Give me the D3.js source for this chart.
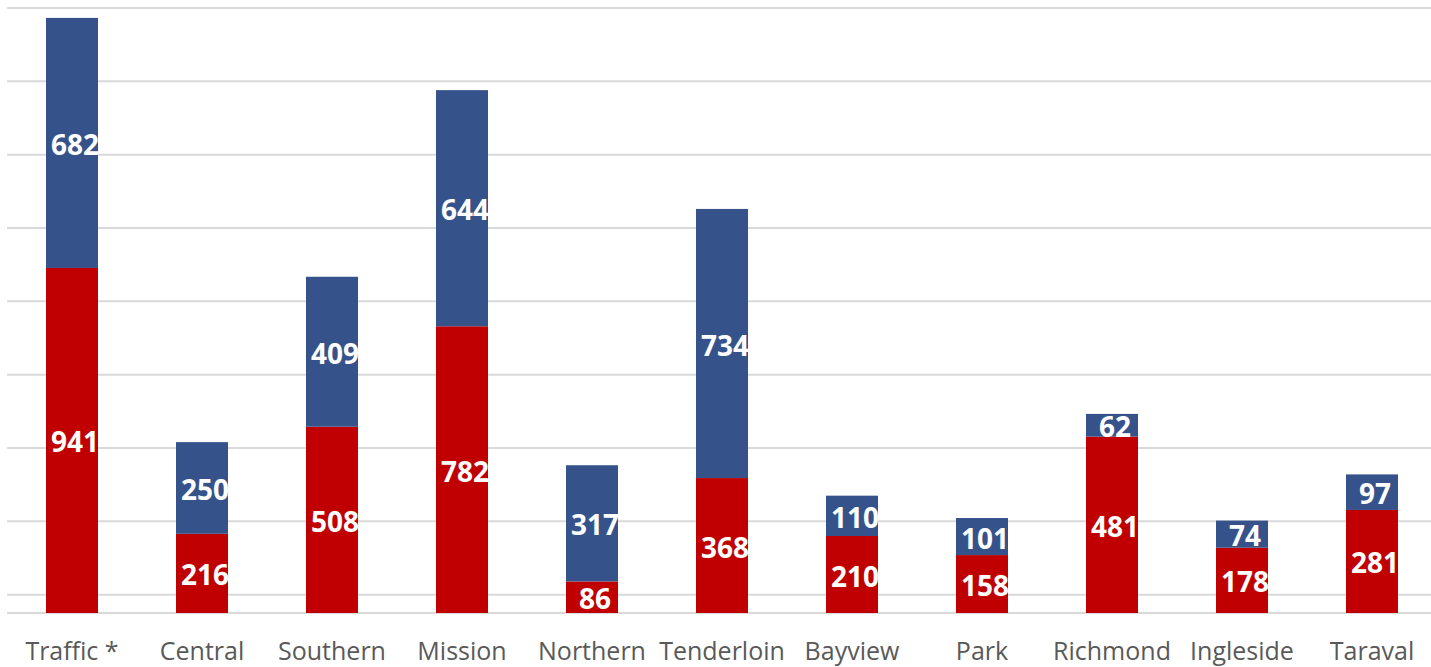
<!DOCTYPE html>
<html lang="en">
<head>
    <meta charset="UTF-8">
    <title>Stacked Bars by District</title>
    <script src="https://d3js.org/d3.v7.min.js"></script>
    <style>
        body { margin: 0; background: #fff; }
        svg { display: block; }
        .cat { font-family: "Open Sans", sans-serif; font-size: 25px; fill: #595959; }
        .val { font-family: "Open Sans", sans-serif; font-size: 28px; font-weight: bold; fill: #fff; }
    </style>
</head>
<body>
    <svg id="canvas"></svg>
    <script>
        let districts = ["Traffic *", "Central", "Southern", "Mission", "Northern", "Tenderloin",
                         "Bayview", "Park", "Richmond", "Ingleside", "Taraval"];
        let redValues = [941, 216, 508, 782, 86, 368, 210, 158, 481, 178, 281];
        let blueValues = [682, 250, 409, 644, 317, 734, 110, 101, 62, 74, 97];
        let gridTicks = [50, 250, 450, 650, 850, 1050, 1250, 1450, 1650];

        let width = 1431, height = 667;
        let canvas = d3.select("#canvas").attr("width", width).attr("height", height);

        let xScale = d3.scaleBand().domain(districts).range([7, 1437]).paddingInner(0.6).paddingOuter(0.3);
        let yScale = d3.scaleLinear().domain([0, 1650]).range([613, 8]);

        // gridlines
        canvas.selectAll("line.grid")
            .data(gridTicks)
            .enter()
            .append("line")
            .attr("class", "grid")
            .attr("x1", 7)
            .attr("x2", width)
            .attr("y1", (d) => yScale(d))
            .attr("y2", (d) => yScale(d))
            .attr("stroke", "#d9d9d9")
            .attr("stroke-width", 2);

        // base line
        canvas.append("line")
            .attr("x1", 7).attr("x2", width)
            .attr("y1", yScale(0)).attr("y2", yScale(0))
            .attr("stroke", "#d9d9d9").attr("stroke-width", 2);

        let rows = districts.map((name, i) => ({ name: name, red: redValues[i], blue: blueValues[i] }));
        let stacked = d3.stack().keys(["red", "blue"])(rows);
        let colors = { red: "#c00000", blue: "#36528a" };

        let layers = canvas.selectAll("g.layer")
            .data(stacked)
            .enter()
            .append("g")
            .attr("class", "layer")
            .attr("fill", (layer) => colors[layer.key]);

        layers.selectAll("rect")
            .data((layer) => layer)
            .enter()
            .append("rect")
            .attr("x", (d) => xScale(d.data.name))
            .attr("width", xScale.bandwidth())
            .attr("y", (d) => yScale(d[1]))
            .attr("height", (d) => yScale(d[0]) - yScale(d[1]));

        layers.selectAll("text")
            .data((layer) => layer)
            .enter()
            .append("text")
            .attr("class", "val")
            .attr("text-anchor", "middle")
            .attr("dominant-baseline", "central")
            .attr("x", (d) => xScale(d.data.name) + xScale.bandwidth() / 2 + 3)
            .attr("y", (d) => (yScale(d[0]) + yScale(d[1])) / 2 + 1)
            .text((d) => d[1] - d[0]);

        // category labels
        canvas.selectAll("text.cat")
            .data(districts)
            .enter()
            .append("text")
            .attr("class", "cat")
            .attr("text-anchor", "middle")
            .attr("x", (d) => xScale(d) + xScale.bandwidth() / 2)
            .attr("y", 660)
            .text((d) => d);
    </script>
</body>
</html>
